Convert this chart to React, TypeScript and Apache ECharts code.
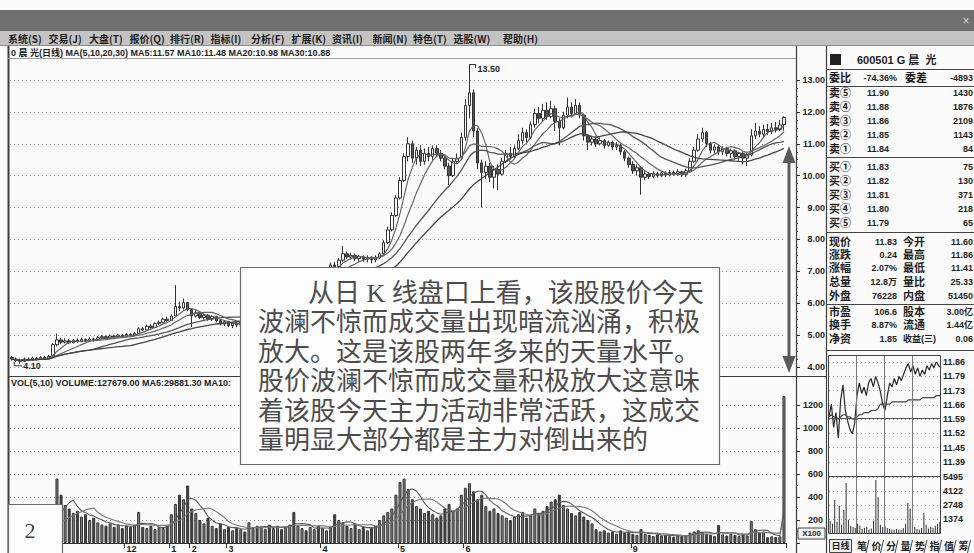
import React, { useEffect, useRef } from "react";
import * as echarts from "echarts";

// ---------- daily candles: [open, close, low, high] ----------
const kData: number[][] = [
  [4.30, 4.25, 4.20, 4.35], [4.25, 4.20, 4.15, 4.30], [4.20, 4.18, 4.10, 4.26], [4.18, 4.25, 4.15, 4.30],
  [4.25, 4.22, 4.18, 4.30], [4.22, 4.28, 4.20, 4.33], [4.28, 4.24, 4.20, 4.32], [4.24, 4.30, 4.22, 4.34],
  [4.30, 4.27, 4.22, 4.35], [4.27, 4.33, 4.25, 4.38], [4.35, 4.70, 4.33, 4.75], [4.70, 4.85, 4.65, 5.05],
  [4.85, 4.78, 4.72, 4.92], [4.78, 4.82, 4.74, 4.90], [4.82, 4.76, 4.72, 4.88], [4.76, 4.84, 4.74, 4.88],
  [4.84, 4.80, 4.76, 4.90], [4.80, 4.86, 4.78, 4.92], [4.86, 4.82, 4.78, 4.90], [4.82, 4.88, 4.80, 4.93],
  [4.88, 4.85, 4.80, 4.92], [4.85, 4.92, 4.83, 4.97], [4.92, 4.95, 4.88, 5.00], [4.95, 4.90, 4.87, 4.99],
  [4.90, 4.97, 4.88, 5.02], [4.97, 4.94, 4.90, 5.01], [4.94, 5.00, 4.92, 5.04], [5.00, 4.96, 4.93, 5.03],
  [4.96, 5.02, 4.94, 5.06], [5.02, 5.00, 4.96, 5.06], [5.00, 5.05, 4.98, 5.10], [5.05, 5.20, 5.03, 5.25],
  [5.20, 5.16, 5.12, 5.26], [5.16, 5.28, 5.14, 5.33], [5.28, 5.24, 5.20, 5.34], [5.24, 5.36, 5.22, 5.40],
  [5.36, 5.40, 5.32, 5.46], [5.40, 5.50, 5.38, 5.55], [5.50, 5.46, 5.42, 5.58], [5.46, 5.60, 5.44, 5.65],
  [5.60, 5.90, 5.58, 6.57], [5.90, 5.85, 5.75, 6.05], [5.85, 6.02, 5.80, 6.15], [6.02, 5.80, 5.75, 6.05],
  [5.80, 5.60, 5.25, 5.85], [5.60, 5.70, 5.55, 5.78], [5.70, 5.55, 5.50, 5.74], [5.55, 5.62, 5.48, 5.68],
  [5.62, 5.50, 5.45, 5.66], [5.50, 5.58, 5.44, 5.62], [5.58, 5.45, 5.40, 5.60], [5.45, 5.35, 5.30, 5.50],
  [5.35, 5.42, 5.28, 5.46], [5.42, 5.30, 5.25, 5.45], [5.30, 5.38, 5.22, 5.42], [5.38, 5.32, 5.25, 5.42],
  [5.32, 5.40, 5.28, 5.45], [5.40, 5.36, 5.30, 5.46], [5.36, 5.48, 5.33, 5.52], [5.48, 5.55, 5.44, 5.60],
  [5.55, 5.52, 5.46, 5.60], [5.52, 5.65, 5.50, 5.70], [5.65, 5.78, 5.60, 5.82], [5.78, 5.74, 5.68, 5.85],
  [5.74, 5.90, 5.70, 5.95], [5.90, 6.05, 5.86, 6.10], [6.05, 6.00, 5.94, 6.12], [6.00, 6.18, 5.96, 6.22],
  [6.18, 6.30, 6.12, 6.36], [6.30, 6.25, 6.18, 6.38], [6.25, 6.42, 6.20, 6.48], [6.42, 6.55, 6.38, 6.60],
  [6.55, 6.50, 6.44, 6.62], [6.50, 6.68, 6.46, 6.72], [6.68, 6.80, 6.62, 6.85], [6.80, 6.75, 6.70, 6.88],
  [6.75, 6.92, 6.72, 6.98], [6.92, 7.05, 6.88, 7.10], [7.05, 7.20, 7.00, 7.28], [7.20, 7.15, 7.08, 7.30],
  [7.15, 7.35, 7.12, 7.42], [7.35, 7.55, 7.30, 7.80], [7.55, 7.45, 7.38, 7.62], [7.45, 7.50, 7.36, 7.58],
  [7.50, 7.40, 7.32, 7.56], [7.40, 7.46, 7.30, 7.52], [7.46, 7.38, 7.30, 7.50], [7.38, 7.44, 7.28, 7.50],
  [7.44, 7.36, 7.25, 7.48], [7.36, 7.42, 7.28, 7.50], [7.42, 7.55, 7.38, 7.60], [7.55, 7.90, 7.50, 7.98],
  [7.90, 8.30, 7.85, 8.40], [8.30, 8.75, 8.25, 8.85], [8.75, 9.30, 8.70, 9.40], [9.30, 9.85, 9.25, 9.95],
  [9.85, 10.60, 9.80, 10.70], [10.60, 11.00, 10.45, 11.20], [11.00, 10.55, 10.40, 11.10], [10.55, 10.80, 10.35, 10.90],
  [10.80, 10.45, 10.30, 10.95], [10.45, 10.70, 10.35, 10.85], [10.70, 10.60, 10.45, 10.90], [10.60, 10.85, 10.50, 10.95],
  [10.85, 10.70, 10.60, 10.95], [10.70, 10.55, 10.45, 10.80], [10.55, 10.30, 10.20, 10.65], [10.30, 10.00, 9.70, 10.40],
  [10.00, 10.45, 9.95, 10.55], [10.45, 10.55, 10.40, 10.70], [10.55, 11.20, 10.50, 11.35], [11.20, 12.20, 11.10, 12.40],
  [12.20, 12.60, 11.80, 13.50], [12.60, 11.40, 11.20, 12.70], [11.40, 10.40, 10.20, 11.50], [10.40, 10.10, 9.00, 10.50],
  [10.10, 10.30, 9.90, 10.45], [10.30, 9.95, 9.80, 10.40], [9.95, 10.20, 9.60, 10.30], [10.20, 10.05, 9.55, 10.35],
  [10.05, 10.45, 10.00, 10.55], [10.45, 10.70, 10.40, 10.80], [10.70, 10.60, 10.50, 10.90], [10.60, 10.85, 10.55, 10.95],
  [10.85, 11.10, 10.80, 11.30], [11.10, 11.35, 11.00, 11.50], [11.35, 11.20, 11.05, 11.45], [11.20, 11.60, 11.15, 11.70],
  [11.60, 11.95, 11.50, 12.10], [11.95, 11.80, 11.65, 12.15], [11.80, 12.05, 11.70, 12.25], [12.05, 11.85, 11.75, 12.30],
  [11.85, 12.10, 11.80, 12.35], [12.10, 11.70, 11.40, 12.20], [11.70, 11.50, 10.95, 11.80], [11.50, 11.90, 11.45, 12.00],
  [11.90, 12.15, 11.80, 12.45], [12.15, 11.95, 11.85, 12.30], [11.95, 12.20, 11.90, 12.40], [12.20, 11.90, 11.80, 12.30],
  [11.90, 11.25, 11.10, 11.95], [11.25, 11.05, 10.80, 11.30], [11.05, 11.15, 10.95, 11.25], [11.15, 11.00, 10.90, 11.20],
  [11.00, 11.10, 10.95, 11.20], [11.10, 10.95, 10.85, 11.15], [10.95, 11.05, 10.90, 11.10], [11.05, 10.90, 10.80, 11.10],
  [10.90, 10.95, 10.80, 11.05], [10.95, 10.75, 10.65, 11.00], [10.75, 10.55, 10.45, 10.80], [10.55, 10.35, 10.25, 10.60],
  [10.35, 10.15, 10.05, 10.45], [10.15, 10.25, 10.00, 10.35], [10.25, 9.95, 9.40, 10.30], [9.95, 10.05, 9.85, 10.15],
  [10.05, 9.98, 9.90, 10.12], [9.98, 10.06, 9.92, 10.14], [10.06, 10.00, 9.94, 10.12], [10.00, 10.08, 9.95, 10.15],
  [10.08, 10.02, 9.96, 10.14], [10.02, 10.10, 9.98, 10.18], [10.10, 10.05, 10.00, 10.16], [10.05, 10.12, 10.00, 10.20],
  [10.12, 10.04, 9.96, 10.16], [10.04, 10.15, 9.95, 10.22], [10.15, 10.45, 10.10, 10.55], [10.45, 10.80, 10.40, 10.90],
  [10.80, 11.15, 10.75, 11.30], [11.15, 11.35, 11.05, 11.50], [11.35, 11.00, 10.90, 11.40], [11.00, 10.80, 10.70, 11.05],
  [10.80, 10.90, 10.70, 10.98], [10.90, 10.75, 10.65, 10.95], [10.75, 10.85, 10.65, 10.92], [10.85, 10.70, 10.60, 10.90],
  [10.70, 10.78, 10.55, 10.85], [10.78, 10.60, 10.50, 10.82], [10.60, 10.70, 10.45, 10.75], [10.70, 10.55, 10.35, 10.75],
  [10.55, 10.65, 10.30, 10.72], [10.65, 11.25, 10.60, 11.45], [11.25, 11.40, 11.15, 11.65], [11.40, 11.30, 11.20, 11.55],
  [11.30, 11.45, 11.22, 11.60], [11.45, 11.38, 11.28, 11.62], [11.38, 11.50, 11.30, 11.65], [11.50, 11.45, 11.35, 11.68],
  [11.45, 11.59, 11.40, 11.75], [11.60, 11.83, 11.41, 11.86],
];

// ---------- daily volume (x100 shares) ----------
const volumes: number[] = [
  90, 85, 110, 95, 80, 100, 90, 85, 105, 95, 140, 560, 420, 330, 300, 260, 280, 230, 250, 200,
  220, 180, 160, 150, 170, 140, 160, 130, 150, 140, 160, 270, 140, 130, 150, 120, 140, 130, 150, 250,
  340, 420, 380, 500, 300, 260, 200, 170, 220, 150, 130, 170, 120, 140, 110, 130, 120, 100, 180, 130,
  150, 140, 120, 160, 130, 150, 120, 140, 160, 270, 150, 130, 110, 140, 120, 150, 130, 110, 140, 250,
  200, 180, 150, 130, 170, 120, 140, 110, 130, 150, 200, 240, 270, 300, 420, 530, 560, 470, 380, 320,
  300, 260, 280, 250, 220, 240, 300, 340, 280, 300, 420, 480, 520, 450, 380, 420, 320, 280, 300, 260,
  240, 220, 200, 230, 250, 270, 220, 240, 300, 260, 280, 320, 360, 380, 420, 330, 300, 260, 240, 270,
  230, 200, 170, 120, 100, 110, 90, 100, 80, 110, 90, 100, 80, 70, 120, 80, 70, 60, 75, 65,
  70, 60, 55, 65, 60, 70, 90, 100, 110, 95, 80, 70, 60, 155, 75, 65, 80, 70, 60, 75,
  65, 190, 120, 90, 100, 50, 58, 52, 57, 1277,
];

// ---------- bottom date marks ----------
const tickIdx = [28, 39, 44, 53, 76, 95, 111, 152];
const tickText = ["12", "1", "2", "3", "4", "5", "6", "9"];

// ---------- intraday (分时) ----------
const minutePrice: number[] = [
  11.60, 11.66, 11.55, 11.62, 11.50, 11.68, 11.75, 11.63, 11.58, 11.54, 11.52, 11.57, 11.70, 11.76, 11.71, 11.74,
  11.70, 11.76, 11.78, 11.74, 11.79, 11.76, 11.72, 11.66, 11.63, 11.70, 11.76, 11.74, 11.78, 11.75, 11.79, 11.77,
  11.80, 11.83, 11.85, 11.81, 11.84, 11.80, 11.83, 11.79, 11.82, 11.80, 11.84, 11.82, 11.85, 11.83, 11.86, 11.84, 11.83,
];
const minuteAvg: number[] = [
  11.60, 11.61, 11.60, 11.60, 11.59, 11.60, 11.61, 11.61, 11.60, 11.60, 11.59, 11.59, 11.60, 11.61, 11.61, 11.62,
  11.62, 11.62, 11.63, 11.63, 11.63, 11.64, 11.66, 11.66, 11.66, 11.66, 11.66, 11.67, 11.67, 11.67, 11.67, 11.67,
  11.67, 11.67, 11.68, 11.68, 11.68, 11.68, 11.68, 11.68, 11.69, 11.69, 11.69, 11.69, 11.69, 11.69, 11.70, 11.70, 11.70,
];
const minuteVol: number[] = [
  1200, 900, 3240, 1100, 2650, 800, 2250, 4900, 1300, 700, 600, 500, 900, 700, 400, 500,
  600, 350, 450, 1200, 5200, 3500, 800, 600, 700, 500, 400, 350, 300, 400, 350, 300,
  500, 900, 2950, 2400, 1500, 600, 400, 350, 500, 1960, 800, 450, 600, 500, 700, 900, 1100,
];
const miniPriceLabels = ["11.39", "11.45", "11.52", "11.59", "11.66", "11.73", "11.79", "11.86"];
const miniVolLabels = ["1374", "2748", "4122", "5495"];

// ---------- quote panel ----------
const bookLabels = ["卖⑤", "卖④", "卖③", "卖②", "卖①", "买①", "买②", "买③", "买④", "买⑤"];
const bookPrices = ["11.90", "11.88", "11.86", "11.85", "11.84", "11.83", "11.82", "11.81", "11.80", "11.79"];
const bookVols = ["1430", "1876", "2109", "1143", "84", "75", "130", "371", "218", "65"];
const statLabelsA = ["现价", "涨跌", "涨幅", "总量", "外盘", "市盈", "换手", "净资"];
const statValuesA = ["11.83", "0.24", "2.07%", "12.8万", "76228", "106.6", "8.87%", "1.85"];
const statLabelsB = ["今开", "最高", "最低", "量比", "内盘", "股本", "流通", "收益(三)"];
const statValuesB = ["11.60", "11.86", "11.41", "25.33", "51450", "3.00亿", "1.44亿", "0.06"];

const menuItems = ["系统(S)", "交易(J)", "大盘(T)", "报价(Q)", "排行(R)", "指标(I)", "分析(F)", "扩展(K)", "资讯(I)", "新闻(N)", "特色(T)", "选股(W)", "帮助(H)"];
const tabItems = ["笔", "价", "分", "量", "势", "指", "值", "筹"];

const noteLines = [
  "从日 K 线盘口上看，该股股价今天",
  "波澜不惊而成交量出现暗流汹涌，积极",
  "放大。这是该股两年多来的天量水平。",
  "股价波澜不惊而成交量积极放大这意味",
  "着该股今天主力活动非常活跃，这成交",
  "量明显大部分都是主力对倒出来的",
];

function movingAvg(values: number[], n: number) {
  return values.map((_, i) => {
    const s = Math.max(0, i - n + 1);
    let sum = 0;
    for (let j = s; j <= i; j++) sum += values[j];
    return +(sum / (i - s + 1)).toFixed(3);
  });
}

const CJK = '"Noto Sans CJK SC", "Liberation Sans", sans-serif';
const NUM = '"Liberation Sans", Arial, "Noto Sans CJK SC", sans-serif';
const NOTE = '"Liberation Serif", "Noto Sans CJK SC", serif';

function txt(x: number, y: number, text: string, font: string, fill = "#222", align = "left", z = 60, lineHeight?: number) {
  const style: any = { text, font, fill, align, textAlign: align, verticalAlign: "middle", textVerticalAlign: "middle" };
  if (lineHeight) style.lineHeight = lineHeight;
  return { type: "text", x, y, z, silent: true, style };
}
function ln(x1: number, y1: number, x2: number, y2: number, stroke = "#444", lineWidth = 1, z = 55, dash?: number[]) {
  return {
    type: "line", z, silent: true,
    shape: { x1, y1, x2, y2 },
    style: { stroke, lineWidth, lineDash: dash || null },
  };
}

export default function App() {
  const ref = useRef<HTMLDivElement>(null);

  useEffect(() => {
    if (!ref.current) return;
    const chart = echarts.init(ref.current, undefined, { renderer: "svg" });

    const closes = kData.map((d) => d[1]);
    const days = kData.map((_, i) => String(i));
    const minutes = minutePrice.map((_, i) => String(i));

    const volData = volumes.map((v, i) => {
      const up = kData[i][1] >= kData[i][0];
      return {
        value: v,
        itemStyle: up
          ? { color: "#7e7e7e", borderColor: "#333", borderWidth: 1 }
          : { color: "#444", borderColor: "#333", borderWidth: 1 },
      };
    });

    const g: any[] = [];
    // window chrome
    g.push({ type: "rect", z: 1, silent: true, shape: { x: 0, y: 0, width: 974, height: 10 }, style: { fill: "#fafafa" } });
    g.push({ type: "rect", z: 1, silent: true, shape: { x: 0, y: 10, width: 974, height: 21 }, style: { fill: "#707070" } });
    g.push({ type: "rect", z: 1, silent: true, shape: { x: 0, y: 31, width: 974, height: 14 }, style: { fill: "#c3c3c3" } });
    g.push(ln(0, 45.5, 974, 45.5, "#8a8a8a", 1, 2));
    g.push(txt(966, 21, "×", "12px " + NUM, "#d8d8d8", "center", 3));
    menuItems.forEach((m, i) => {
      const x = i < 12 ? 8 + i * 40.5 : 503;
      g.push(txt(x, 38.5, m, "bold 10px " + CJK, "#1e1e1e", "left", 3));
    });

    // frame lines
    g.push(ln(8.5, 46, 8.5, 553, "#3c3c3c", 2));
    g.push(ln(796.5, 46, 796.5, 553, "#3c3c3c", 1.2));
    g.push(ln(826.5, 46, 826.5, 553, "#3c3c3c", 1.2));
    g.push(ln(8, 376.5, 826, 376.5, "#3c3c3c", 1.2));
    g.push(ln(8, 58.5, 796, 58.5, "#9a9a9a", 1));

    // header lines of charts
    g.push(txt(11, 52.5, "0 晨 光(日线) MA(5,10,20,30) MA5:11.57 MA10:11.48 MA20:10.98 MA30:10.88", "bold 9px " + NUM, "#1e1e1e"));
    g.push(txt(11, 382.5, "VOL(5,10) VOLUME:127679.00 MA5:29881.30 MA10:", "bold 9px " + NUM, "#1e1e1e"));

    // X100 box
    g.push({ type: "rect", z: 56, silent: true, shape: { x: 798, y: 528, width: 27, height: 11 }, style: { fill: "#f4f4f4", stroke: "#444", lineWidth: 1 } });
    g.push(txt(811.5, 533.8, "X100", "bold 8px " + NUM, "#222", "center", 57));

    // quote panel
    g.push({ type: "rect", z: 56, silent: true, shape: { x: 830, y: 54, width: 11, height: 11 }, style: { fill: "#222" } });
    g.push(txt(857, 60, "600501 G 晨  光", "bold 11px " + NUM, "#1e1e1e"));
    [69.5, 86.5, 157.5, 232.5, 304.5, 350.5].forEach((y) => g.push(ln(826, y, 974, y, "#444", 1.2)));
    g.push(txt(829, 78, "委比", "bold 11px " + NUM, "#1e1e1e"));
    g.push(txt(897, 78, "-74.36%", "bold 9px " + NUM, "#1e1e1e", "right"));
    g.push(txt(905, 78, "委差", "bold 11px " + NUM, "#1e1e1e"));
    g.push(txt(973, 78, "-4893", "bold 9px " + NUM, "#1e1e1e", "right"));
    const bookY = [93, 107, 121, 135, 149, 167, 181, 195, 209, 223];
    bookLabels.forEach((l, i) => {
      g.push(txt(829, bookY[i], l, "bold 11px " + NUM, "#1e1e1e"));
      g.push(txt(889, bookY[i], bookPrices[i], "bold 9px " + NUM, "#1e1e1e", "right"));
      g.push(txt(973, bookY[i], bookVols[i], "bold 9px " + NUM, "#1e1e1e", "right"));
    });
    const statY = [242, 255, 268, 282, 296, 312, 325, 339];
    statLabelsA.forEach((l, i) => {
      const longLabel = statLabelsB[i].length > 2;
      g.push(txt(829, statY[i], l, "bold 11px " + NUM, "#1e1e1e"));
      g.push(txt(897, statY[i], statValuesA[i], "bold 9px " + NUM, "#1e1e1e", "right"));
      g.push(txt(903, statY[i], statLabelsB[i], (longLabel ? "bold 9px " : "bold 11px ") + NUM, "#1e1e1e"));
      g.push(txt(973, statY[i], statValuesB[i], "bold 9px " + NUM, "#1e1e1e", "right"));
    });

    // intraday frame
    g.push({ type: "rect", z: 56, silent: true, shape: { x: 828.5, y: 355.5, width: 112, height: 178 }, style: { fill: "none", stroke: "#444", lineWidth: 1 } });
    [856.5, 884.5, 912.5].forEach((x) => g.push(ln(x, 355, x, 533, "#777", 1)));
    g.push(ln(828, 476.5, 941, 476.5, "#444", 1));
    g.push(ln(828, 418.5, 941, 418.5, "#555", 1.2));

    // tabs
    g.push({ type: "rect", z: 56, silent: true, shape: { x: 829.5, y: 539.5, width: 22, height: 13 }, style: { fill: "#eee", stroke: "#444", lineWidth: 1 } });
    g.push(txt(840.5, 546, "日线", "bold 9px " + NUM, "#1e1e1e", "center", 57));
    tabItems.forEach((t, i) => {
      g.push(txt(862 + i * 14.5, 546, t, "bold 10px " + NUM, "#1e1e1e", "center", 57));
      g.push(ln(869 + i * 14.5, 540, 866 + i * 14.5, 553, "#444", 1, 57));
    });

    // double arrow
    g.push(ln(789, 158, 789, 360, "#5a5a5a", 3, 70));
    g.push({ type: "polygon", z: 70, silent: true, shape: { points: [[782.5, 163], [789, 146], [795.5, 163]] }, style: { fill: "#5a5a5a" } });
    g.push({ type: "polygon", z: 70, silent: true, shape: { points: [[782.5, 356], [789, 373], [795.5, 356]] }, style: { fill: "#5a5a5a" } });

    // annotation box
    g.push({ type: "rect", z: 100, silent: true, shape: { x: 240.5, y: 267.5, width: 479, height: 197 }, style: { fill: "#fdfdfd", stroke: "#6a6a6a", lineWidth: 1.2 } });
    const noteY = [293, 322.5, 352, 381.5, 411, 440.5];
    noteLines.forEach((l, i) => {
      g.push(txt(i === 0 ? 308 : 258, noteY[i], l, "26px " + NOTE, "#4c4c4c", "left", 101, 27));
    });

    // figure number box
    g.push({ type: "rect", z: 100, silent: true, shape: { x: 8.5, y: 504.5, width: 54, height: 50 }, style: { fill: "#fdfdfd", stroke: "#6a6a6a", lineWidth: 1.2 } });
    g.push(txt(30, 530, "2", '22px "Liberation Serif", "DejaVu Serif", serif', "#444", "center", 101));

    const axisLabelStyle = { color: "#1e1e1e", fontSize: 9, fontWeight: "bold", fontFamily: NUM };

    const option: any = {
      animation: false,
      backgroundColor: "#fbfbfb",
      grid: [
        { left: 10, right: 188, top: 80, bottom: 186 },
        { left: 10, right: 188, top: 405, bottom: 9 },
        { left: 829, right: 33, top: 362, bottom: 77 },
        { left: 829, right: 33, top: 477, bottom: 20 },
      ],
      xAxis: [
        { type: "category", gridIndex: 0, data: days, boundaryGap: true, axisLine: { show: false }, axisTick: { show: false }, axisLabel: { show: false }, splitLine: { show: false } },
        {
          type: "category", gridIndex: 1, data: days, boundaryGap: true,
          axisLine: { show: true, lineStyle: { color: "#333", width: 1 } },
          axisTick: { show: true, inside: false, length: 5, interval: (i: number) => tickIdx.includes(i), lineStyle: { color: "#333" } },
          axisLabel: {
            show: true, interval: (i: number) => tickIdx.includes(i), margin: 1, align: "left",
            formatter: (_v: string, i: number) => tickText[tickIdx.indexOf(i)] ?? "",
            ...axisLabelStyle,
          },
          splitLine: { show: false },
        },
        { type: "category", gridIndex: 2, data: minutes, boundaryGap: false, axisLine: { show: false }, axisTick: { show: false }, axisLabel: { show: false } },
        { type: "category", gridIndex: 3, data: minutes, boundaryGap: true, axisLine: { show: false }, axisTick: { show: false }, axisLabel: { show: false } },
      ],
      yAxis: [
        {
          type: "value", gridIndex: 0, min: 4, max: 13, interval: 1, position: "right", offset: 10,
          axisLine: { show: false },
          axisTick: { show: true, length: 4, lineStyle: { color: "#333" } },
          minorTick: { show: true, splitNumber: 4, length: 2, lineStyle: { color: "#555" } },
          axisLabel: { margin: 29, align: "right", formatter: (v: number) => v.toFixed(2), ...axisLabelStyle },
          splitLine: { show: true, lineStyle: { color: "#9a9a9a", type: [1, 3], width: 1 } },
        },
        {
          type: "value", gridIndex: 1, min: 0, max: 1200, interval: 200, position: "right", offset: 10,
          axisLine: { show: false },
          axisTick: { show: true, length: 4, lineStyle: { color: "#333" } },
          minorTick: { show: true, splitNumber: 2, length: 2, lineStyle: { color: "#555" } },
          axisLabel: { margin: 27, align: "right", showMinLabel: false, formatter: (v: number) => String(v), ...axisLabelStyle },
          splitLine: { show: true, lineStyle: { color: "#9a9a9a", type: [1, 3], width: 1 } },
        },
        {
          type: "value", gridIndex: 2, min: 11.3225, max: 11.8575, interval: 0.066875, position: "right",
          axisLine: { show: false }, axisTick: { show: false },
          axisLabel: {
            margin: 2, showMinLabel: false,
            formatter: (v: number) => miniPriceLabels[Math.round((v - 11.3225) / 0.066875) - 1] ?? "",
            ...axisLabelStyle,
          },
          splitLine: { show: true, lineStyle: { color: "#aaa", type: [1, 3] } },
        },
        {
          type: "value", gridIndex: 3, min: 0, max: 5495, interval: 1373.75, position: "right",
          axisLine: { show: false }, axisTick: { show: false },
          axisLabel: {
            margin: 2, showMinLabel: false,
            formatter: (v: number) => miniVolLabels[Math.round(v / 1373.75) - 1] ?? "",
            ...axisLabelStyle,
          },
          splitLine: { show: true, lineStyle: { color: "#aaa", type: [1, 3] } },
        },
      ],
      series: [
        {
          type: "candlestick", xAxisIndex: 0, yAxisIndex: 0, data: kData, barWidth: 3, clip: false,
          itemStyle: { color: "#fbfbfb", color0: "#555", borderColor: "#333", borderColor0: "#333", borderWidth: 1 },
        },
        { name: "MA5", type: "line", xAxisIndex: 0, yAxisIndex: 0, data: movingAvg(closes, 5), showSymbol: false, symbol: "none", lineStyle: { color: "#5c5c5c", width: 1.1 } },
        { name: "MA10", type: "line", xAxisIndex: 0, yAxisIndex: 0, data: movingAvg(closes, 10), showSymbol: false, symbol: "none", lineStyle: { color: "#666", width: 1.2 } },
        { name: "MA20", type: "line", xAxisIndex: 0, yAxisIndex: 0, data: movingAvg(closes, 20), showSymbol: false, symbol: "none", lineStyle: { color: "#555", width: 1.3 } },
        { name: "MA30", type: "line", xAxisIndex: 0, yAxisIndex: 0, data: movingAvg(closes, 30), showSymbol: false, symbol: "none", lineStyle: { color: "#444", width: 1.3 } },
        { type: "bar", xAxisIndex: 1, yAxisIndex: 1, data: volData, barWidth: 3, clip: false },
        { type: "line", xAxisIndex: 1, yAxisIndex: 1, data: movingAvg(volumes, 5), showSymbol: false, symbol: "none", lineStyle: { color: "#5a5a5a", width: 1.1 } },
        { type: "line", xAxisIndex: 1, yAxisIndex: 1, data: movingAvg(volumes, 10), showSymbol: false, symbol: "none", lineStyle: { color: "#777", width: 1.1 } },
        { type: "line", xAxisIndex: 2, yAxisIndex: 2, data: minutePrice, showSymbol: false, symbol: "none", lineStyle: { color: "#2a2a2a", width: 1.2 } },
        { type: "line", xAxisIndex: 2, yAxisIndex: 2, data: minuteAvg, showSymbol: false, symbol: "none", lineStyle: { color: "#444", width: 1.2 } },
        { type: "bar", xAxisIndex: 3, yAxisIndex: 3, data: minuteVol, barWidth: 1, itemStyle: { color: "#333" } },
      ],
      graphic: { elements: g },
    };

    chart.setOption(option);

    // high / low marks placed through the chart's own scales
    let hiIdx = 0, loIdx = 0;
    kData.forEach((d, i) => {
      if (d[3] > kData[hiIdx][3]) hiIdx = i;
      if (d[2] < kData[loIdx][2]) loIdx = i;
    });
    const hp = chart.convertToPixel({ gridIndex: 0 }, [hiIdx, kData[hiIdx][3]]) as number[];
    const lp = chart.convertToPixel({ gridIndex: 0 }, [loIdx, kData[loIdx][2]]) as number[];
    const extra: any[] = [
      ln(hp[0], hp[1] + 0.5, hp[0] + 6, hp[1] + 0.5, "#333", 1, 58),
      ln(hp[0] + 6, hp[1], hp[0] + 6, hp[1] + 4, "#333", 1, 58),
      txt(hp[0] + 8, hp[1] + 5, kData[hiIdx][3].toFixed(2), "bold 9px " + NUM, "#1e1e1e", "left", 58),
      ln(lp[0] - 6, lp[1] + 2, lp[0] - 6, lp[1] - 2, "#333", 1, 58),
      ln(lp[0] - 6, lp[1] + 2, lp[0] + 2, lp[1] + 2, "#333", 1, 58),
      txt(lp[0] + 3, lp[1] + 2, kData[loIdx][2].toFixed(2), "bold 9px " + NUM, "#1e1e1e", "left", 58),
    ];
    chart.setOption({ graphic: { elements: [...g, ...extra] } });

    return () => chart.dispose();
  }, []);

  return <div ref={ref} style={{ position: "fixed", left: 0, top: 0, width: 974, height: 553 }} />;
}
